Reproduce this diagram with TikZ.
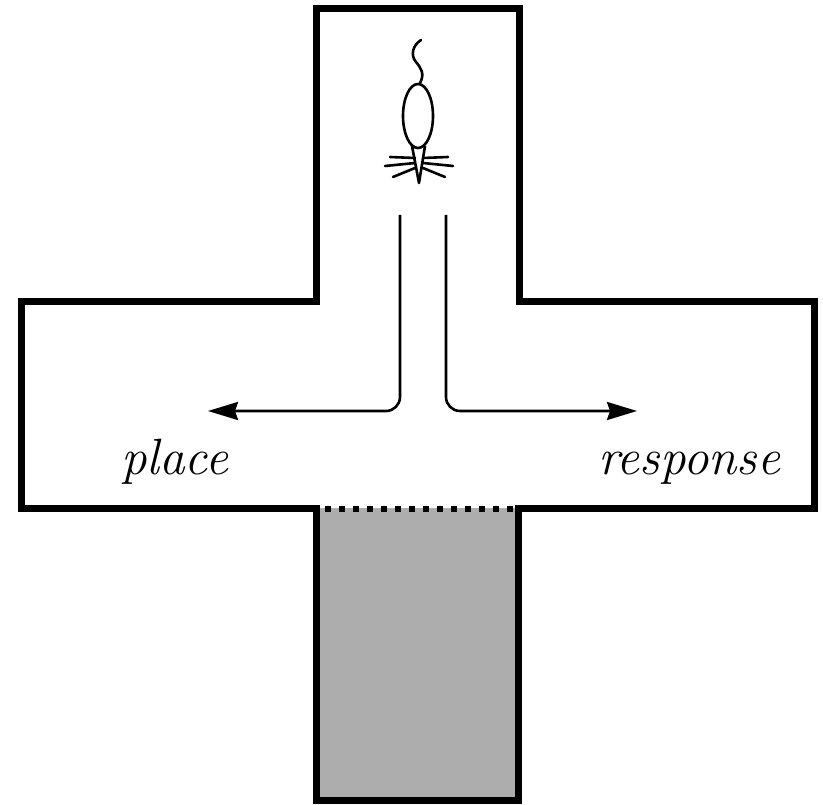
\documentclass[tikz,border=0pt]{standalone}
\usetikzlibrary{arrows.meta}
\definecolor{stemgray}{HTML}{ADADAD}
\begin{document}
\begin{tikzpicture}[x=1pt,y=-1pt,
  wall/.style={line width=7pt,line join=miter,line cap=rect},
  route/.style={line width=2.6pt,rounded corners=14pt,-{Stealth[length=30pt,width=18pt,inset=3pt]}},
  ratline/.style={line width=2.6pt,line cap=round},
  armlabel/.style={font=\fontsize{51}{60}\selectfont\itshape,inner sep=0pt,anchor=base west}]
\useasboundingbox (0,0) rectangle (823,805);
% start arm (shaded) below the choice point
\fill[stemgray] (316,508) rectangle (518,800);
\draw[wall] (316,508) -- (316,800) -- (518,800) -- (518,508);
% closed door between start arm and choice point
\draw[line width=6pt,dash pattern=on 6pt off 8pt] (325,509) -- (514,509);
% T-maze outline
\draw[wall] (316,508) -- (21,508) -- (21,302) -- (316,302) -- (316,9)
  -- (519,9) -- (519,302) -- (814,302) -- (814,508) -- (518,508);
% the two possible routes
\coordinate (ls) at (400,215);
\coordinate (rs) at (446,215);
\coordinate (lt) at (208,411);
\coordinate (rt) at (637,411);
\draw[route] (ls) -- (400,411) -- (lt);
\draw[route] (rs) -- (446,411) -- (rt);
\node[armlabel] (place) at (121,474) {place};
\node[armlabel] (response) at (598,474) {response};
% the rat, seen from above
\draw[ratline] (420,83) .. controls (425,74) and (421,68) .. (416,62)
  .. controls (410,55) and (413,45) .. (421,40);
\draw[line width=2.6pt] (418,116) ellipse (15pt and 32pt);
\draw[line width=2.6pt,line join=round] (412,146) -- (419,183) -- (425,146);
\draw[ratline] (390,157) -- (415,158);
\draw[ratline] (385,166) -- (415,163);
\draw[ratline] (393,177) -- (415,168);
\draw[ratline] (448,157) -- (423,158);
\draw[ratline] (453,166) -- (423,163);
\draw[ratline] (445,177) -- (423,168);
\end{tikzpicture}
\end{document}
